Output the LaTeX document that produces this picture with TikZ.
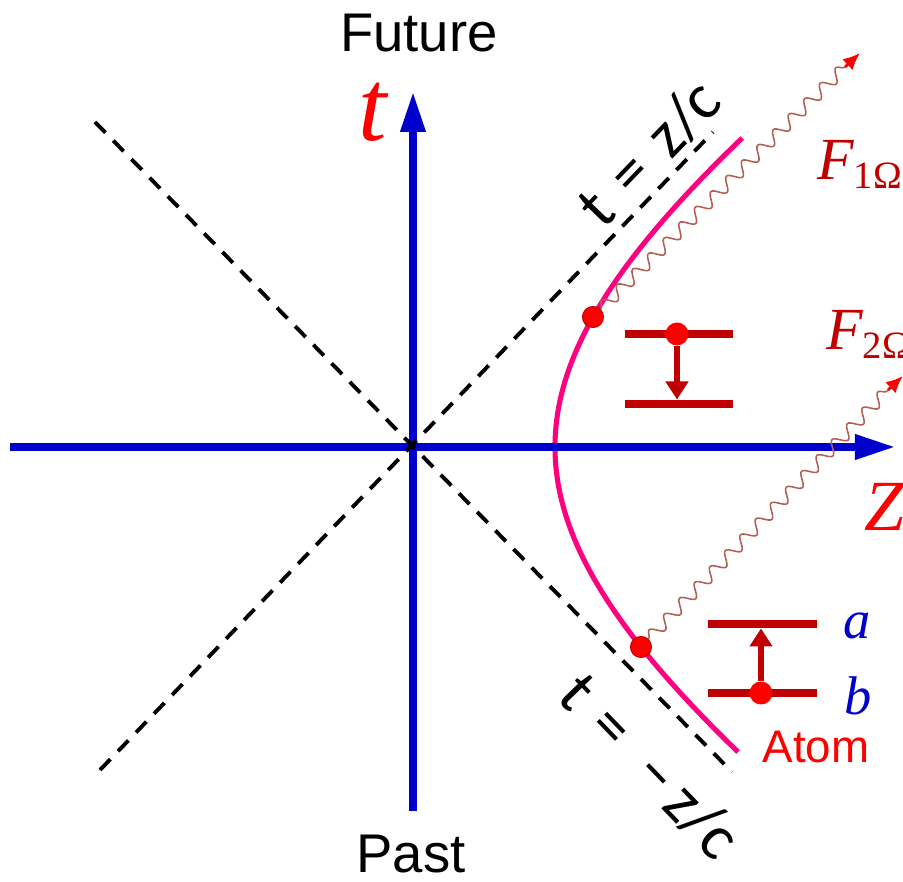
\documentclass[tikz,border=0pt]{standalone}
\usepackage{amsmath, amssymb}
\usepackage{fontspec}
\setmainfont{Liberation Sans}
\newfontfamily\conefont{Carlito}
\newfontfamily\varfont{Liberation Serif}
\usepackage{xcolor}
\usepackage{tikz}
\usetikzlibrary{arrows.meta, decorations.pathmorphing, positioning}

\definecolor{axisblue}{RGB}{0,0,204}
\definecolor{levelred}{RGB}{192,0,0}
\definecolor{atompink}{RGB}{255,0,128}
\definecolor{photonbrown}{RGB}{180,95,85}

\newcommand{\fieldlabel}[1]{{\varfont\itshape F}{\varfont\fontsize{22}{22}\selectfont\raisebox{-0.22em}{#1}}}

\tikzset{
    axis/.style={axisblue, line width=4pt, -{Triangle[length=0.8cm, width=0.48cm]}},
    lightcone/.style={black, line width=2.2pt, dash pattern=on 0.3cm off 0.22cm},
    worldline/.style={atompink, line width=2.9pt},
    photon/.style={photonbrown, line width=0.9pt, decorate,
        decoration={snake, segment length=0.44cm, amplitude=0.12cm}},
    photontip/.style={red, line width=1.6pt, -{Latex[length=0.34cm, width=0.3cm]}},
    level/.style={levelred, line width=4.6pt},
    transition/.style={levelred, line width=3.6pt, -{Triangle[length=0.36cm, width=0.44cm]}},
    electron/.style={circle, fill=red, inner sep=0pt, minimum size=0.46cm},
    atomdot/.style={circle, fill=red, draw=levelred, line width=0.6pt, inner sep=0pt, minimum size=0.42cm},
}

\begin{document}
\begin{tikzpicture}
    \useasboundingbox (-8.26,-8.7) rectangle (9.8,8.94);

    % Quỹ đạo của nguyên tử (hyperbol)
    \draw[worldline] plot[domain=-6.1:6.18, samples=120, variable=\t]
        ({-6.76+9.6*sqrt(1+(\t/6.4)^2)}, \t);

    % Hệ trục z, t
    \coordinate (zstart) at (-8.06,0);
    \coordinate (ztip) at (9.64,0);
    \coordinate (tstart) at (0,-7.28);
    \coordinate (ttip) at (0,7.1);
    \draw[axis] (zstart) -- (ztip);
    \draw[axis] (tstart) -- (ttip);

    % Nón ánh sáng t = z/c, t = -z/c
    \coordinate (coneLL) at (-6.26,-6.46);
    \coordinate (coneUR) at (6.0,6.3);
    \coordinate (coneUL) at (-6.36,6.5);
    \coordinate (coneLR) at (6.38,-6.5);
    \draw[lightcone] (coneLL) -- (coneUR);
    \draw[lightcone] (coneUL) -- (coneLR);
    \node[rotate=46] (coneplus) at (4.72,5.88)
        {\conefont\fontsize{37}{37}\selectfont t\,\,=\,\,z/c};
    \node[rotate=-46] (coneminus) at (4.74,-6.38)
        {\conefont\fontsize{37}{37}\selectfont t\,\,=\,\,\,−\,z/c};

    % Nhãn trục
    \node (future) at (0.12,8.28) {\fontsize{31}{31}\selectfont Future};
    \node (past) at (-0.04,-8.14) {\fontsize{31}{31}\selectfont Past};
    \node[red] (tlabel) at (-0.8,6.7) {\varfont\itshape\fontsize{58}{58}\selectfont t};
    \node[red] (zlabel) at (9.44,-1.2) {\varfont\itshape\fontsize{41}{41}\selectfont Z};

    % Điểm phát xạ và hấp thụ trên quỹ đạo
    \node[atomdot] (emit) at (3.60,2.6) {};
    \node[atomdot] (absorb) at (4.56,-4.0) {};

    % Photon
    \coordinate (ph1end) at (8.64,7.6);
    \coordinate (ph1tip) at (8.94,7.88);
    \coordinate (ph2end) at (9.5,1.14);
    \coordinate (ph2tip) at (9.8,1.42);
    \draw[photon] (emit) -- (ph1end);
    \draw[photontip] (ph1end) -- (ph1tip);
    \draw[photon] (absorb) -- (ph2end);
    \draw[photontip] (ph2end) -- (ph2tip);
    \node[levelred, anchor=base west] (f1) at (7.96,5.34)
        {\fontsize{34}{34}\selectfont\fieldlabel{1Ω}};
    \node[levelred, anchor=base west] (f2) at (8.14,1.94)
        {\fontsize{34}{34}\selectfont\fieldlabel{2Ω}};

    % Mức năng lượng: phát xạ
    \coordinate (aUpL) at (4.24,2.26);
    \coordinate (aUpR) at (6.4,2.26);
    \coordinate (aLoL) at (4.24,0.86);
    \coordinate (aLoR) at (6.4,0.86);
    \draw[level] (aUpL) -- (aUpR);
    \draw[level] (aLoL) -- (aLoR);
    \node[electron] (e1) at (5.28,2.26) {};
    \coordinate (e1end) at (5.28,0.95);
    \draw[transition] (e1) -- (e1end);

    % Mức năng lượng: hấp thụ
    \coordinate (bUpL) at (5.9,-3.54);
    \coordinate (bUpR) at (8.08,-3.54);
    \coordinate (bLoL) at (5.9,-4.92);
    \coordinate (bLoR) at (8.08,-4.92);
    \draw[level] (bUpL) -- (bUpR);
    \draw[level] (bLoL) -- (bLoR);
    \node[electron] (e2) at (6.96,-4.92) {};
    \coordinate (e2end) at (6.96,-3.63);
    \draw[transition] (e2) -- (e2end);
    \node[axisblue, anchor=base west] (alabel) at (8.48,-3.84)
        {\varfont\itshape\fontsize{31}{31}\selectfont a};
    \node[axisblue, anchor=base west] (blabel) at (8.5,-5.36)
        {\varfont\itshape\fontsize{31}{31}\selectfont b};
    \node[red] (atom) at (8.06,-6.0) {\fontsize{26}{26}\selectfont Atom};
\end{tikzpicture}
\end{document}
